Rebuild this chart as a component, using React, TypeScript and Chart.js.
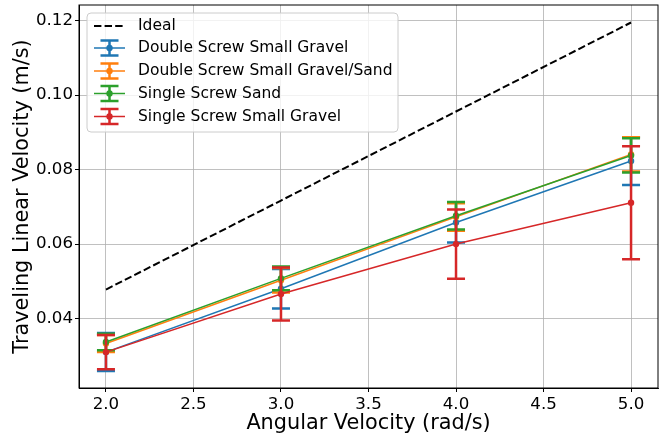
import React, { useEffect, useRef } from "react";
import { Chart, registerables } from "chart.js";

Chart.register(...registerables);

const xValues = [2, 3, 4, 5];
const xTicks = [2.0, 2.5, 3.0, 3.5, 4.0, 4.5, 5.0];
const yTicks = [0.04, 0.06, 0.08, 0.1, 0.12];

const idealValues = [0.0478, 0.0717, 0.0956, 0.1195];

const seriesNames = [
  "Double Screw Small Gravel",
  "Double Screw Small Gravel/Sand",
  "Single Screw Sand",
  "Single Screw Small Gravel",
];
const seriesColors = ["#1f77b4", "#ff7f0e", "#2ca02c", "#d62728"];

const dsSmallGravelMean = [0.031, 0.048, 0.0658, 0.0823];
const dsSmallGravelErr = [0.0051, 0.0053, 0.0054, 0.0064];
const dsGravelSandMean = [0.0333, 0.0503, 0.0673, 0.0841];
const dsGravelSandErr = [0.0023, 0.0033, 0.0037, 0.0046];
const ssSandMean = [0.0337, 0.0508, 0.0676, 0.0838];
const ssSandErr = [0.0022, 0.0032, 0.0037, 0.0046];
const ssSmallGravelMean = [0.031, 0.0466, 0.06, 0.0711];
const ssSmallGravelErr = [0.0046, 0.0071, 0.0093, 0.0152];

const seriesMeans = [dsSmallGravelMean, dsGravelSandMean, ssSandMean, ssSmallGravelMean];
const seriesErrs = [dsSmallGravelErr, dsGravelSandErr, ssSandErr, ssSmallGravelErr];

const FONT = '"DejaVu Sans", sans-serif';
const CAP_HALF = 9;

const errorBarPlugin = {
  id: "errorBars",
  afterDatasetDraw(chart: any, args: any) {
    const ds: any = chart.data.datasets[args.index];
    if (!ds.errors) return;
    const ctx = chart.ctx;
    const xs = chart.scales.x;
    const ys = chart.scales.y;
    ctx.save();
    ctx.strokeStyle = ds.borderColor;
    ds.data.forEach((p: any, j: number) => {
      const e = ds.errors[j];
      const px = xs.getPixelForValue(p.x);
      const yt = ys.getPixelForValue(p.y + e);
      const yb = ys.getPixelForValue(p.y - e);
      ctx.lineWidth = 2.5;
      ctx.beginPath();
      ctx.moveTo(px, yt);
      ctx.lineTo(px, yb);
      ctx.stroke();
      ctx.beginPath();
      ctx.moveTo(px - CAP_HALF, yt);
      ctx.lineTo(px + CAP_HALF, yt);
      ctx.moveTo(px - CAP_HALF, yb);
      ctx.lineTo(px + CAP_HALF, yb);
      ctx.stroke();
    });
    ctx.restore();
  },
};

const framePlugin = {
  id: "frameLegend",
  afterDraw(chart: any) {
    const ctx = chart.ctx;
    const a = chart.chartArea;
    ctx.save();
    ctx.strokeStyle = "#000";
    ctx.lineWidth = 1;
    ctx.strokeRect(a.left, a.top, a.right - a.left, a.bottom - a.top);

    // legend
    const lx = 87, ly = 13, lw = 311, lh = 119, r = 4;
    ctx.fillStyle = "rgba(255,255,255,0.8)";
    ctx.strokeStyle = "#cccccc";
    ctx.lineWidth = 1;
    ctx.beginPath();
    ctx.moveTo(lx + r, ly);
    ctx.lineTo(lx + lw - r, ly);
    ctx.quadraticCurveTo(lx + lw, ly, lx + lw, ly + r);
    ctx.lineTo(lx + lw, ly + lh - r);
    ctx.quadraticCurveTo(lx + lw, ly + lh, lx + lw - r, ly + lh);
    ctx.lineTo(lx + r, ly + lh);
    ctx.quadraticCurveTo(lx, ly + lh, lx, ly + lh - r);
    ctx.lineTo(lx, ly + r);
    ctx.quadraticCurveTo(lx, ly, lx + r, ly);
    ctx.closePath();
    ctx.fill();
    ctx.stroke();

    const rowY = [26, 48, 71, 93.5, 116.5];
    const hx0 = 94, hx1 = 125, hc = 109.5, tx = 138;
    ctx.font = "15.5px " + FONT;
    ctx.textBaseline = "middle";
    ctx.textAlign = "left";
    // Ideal
    ctx.strokeStyle = "#000";
    ctx.lineWidth = 2;
    ctx.setLineDash([7.4, 3.2]);
    ctx.beginPath();
    ctx.moveTo(hx0, rowY[0]);
    ctx.lineTo(hx1, rowY[0]);
    ctx.stroke();
    ctx.setLineDash([]);
    ctx.fillStyle = "#000";
    ctx.fillText("Ideal", tx, rowY[0]);

    seriesNames.forEach((name, i) => {
      const y = rowY[i + 1];
      const c = seriesColors[i];
      ctx.strokeStyle = c;
      ctx.lineWidth = 1.5;
      ctx.beginPath();
      ctx.moveTo(hx0, y);
      ctx.lineTo(hx1, y);
      ctx.stroke();
      ctx.lineWidth = 2.5;
      ctx.beginPath();
      ctx.moveTo(hc, y - 7.5);
      ctx.lineTo(hc, y + 7.5);
      ctx.moveTo(hc - CAP_HALF, y - 7.5);
      ctx.lineTo(hc + CAP_HALF, y - 7.5);
      ctx.moveTo(hc - CAP_HALF, y + 7.5);
      ctx.lineTo(hc + CAP_HALF, y + 7.5);
      ctx.stroke();
      ctx.fillStyle = c;
      ctx.beginPath();
      ctx.arc(hc, y, 3.2, 0, Math.PI * 2);
      ctx.fill();
      ctx.fillStyle = "#000";
      ctx.fillText(name, tx, y);
    });
    ctx.restore();
  },
};

export default function App() {
  const ref = useRef<HTMLCanvasElement>(null);
  useEffect(() => {
    if (!ref.current) return;
    const datasets: any[] = [
      {
        label: "Ideal",
        data: xValues.map((x, i) => ({ x, y: idealValues[i] })),
        borderColor: "#000",
        backgroundColor: "#000",
        borderWidth: 2,
        borderDash: [7.4, 3.2],
        pointRadius: 0,
        order: 10,
      },
      ...seriesNames.map((name, i) => ({
        label: name,
        data: xValues.map((x, j) => ({ x, y: seriesMeans[i][j] })),
        errors: seriesErrs[i],
        borderColor: seriesColors[i],
        backgroundColor: seriesColors[i],
        borderWidth: 1.5,
        pointRadius: 3.2,
        pointBorderWidth: 0,
        order: 4 - i,
      })),
    ];
    const chart = new Chart(ref.current, {
      type: "line",
      data: { datasets },
      options: {
        animation: false,
        responsive: false,
        maintainAspectRatio: false,
        layout: { padding: { top: 5, right: 9, left: 0, bottom: 0 } },
        plugins: { legend: { display: false }, tooltip: { enabled: false } },
        elements: { line: { tension: 0 } },
        scales: {
          x: {
            type: "linear",
            min: 1.846,
            max: 5.154,
            afterBuildTicks: (s: any) => {
              s.ticks = xTicks.map((v) => ({ value: v }));
            },
            afterFit: (s: any) => {
              s.height = 48;
              s.paddingLeft = 0;
              s.paddingRight = 0;
            },
            ticks: {
              color: "#000",
              font: { family: FONT, size: 16.67 },
              padding: 3,
              maxRotation: 0,
              autoSkip: false,
              callback: (v: any) => Number(v).toFixed(1),
            },
            grid: {
              color: "#b0b0b0",
              lineWidth: 0.8,
              tickColor: "#000",
              tickLength: 4,
              tickWidth: 1,
            },
            border: { display: true, color: "#000", width: 1 },
            title: {
              display: true,
              text: "Angular Velocity (rad/s)",
              color: "#000",
              font: { family: FONT, size: 20.8 },
              padding: { top: 0, bottom: 0 },
            },
          },
          y: {
            type: "linear",
            min: 0.02136,
            max: 0.1242,
            afterBuildTicks: (s: any) => {
              s.ticks = yTicks.map((v) => ({ value: v }));
            },
            afterFit: (s: any) => {
              s.width = 79;
              s.paddingTop = 0;
              s.paddingBottom = 0;
            },
            ticks: {
              color: "#000",
              font: { family: FONT, size: 16.67 },
              padding: 2,
              autoSkip: false,
              callback: (v: any) => Number(v).toFixed(2),
            },
            grid: {
              color: "#b0b0b0",
              lineWidth: 0.8,
              tickColor: "#000",
              tickLength: 4,
              tickWidth: 1,
            },
            border: { display: true, color: "#000", width: 1 },
            title: {
              display: true,
              text: "Traveling Linear Velocity (m/s)",
              color: "#000",
              font: { family: FONT, size: 20.8 },
              padding: { top: 10, bottom: 0 },
            },
          },
        },
      } as any,
      plugins: [errorBarPlugin, framePlugin],
    });
    return () => chart.destroy();
  }, []);
  return (
    <div style={{ position: "fixed", left: 0, top: 0, width: 667, height: 436, background: "#fff" }}>
      <canvas ref={ref} width={667} height={436} style={{ width: 667, height: 436 }} />
    </div>
  );
}
